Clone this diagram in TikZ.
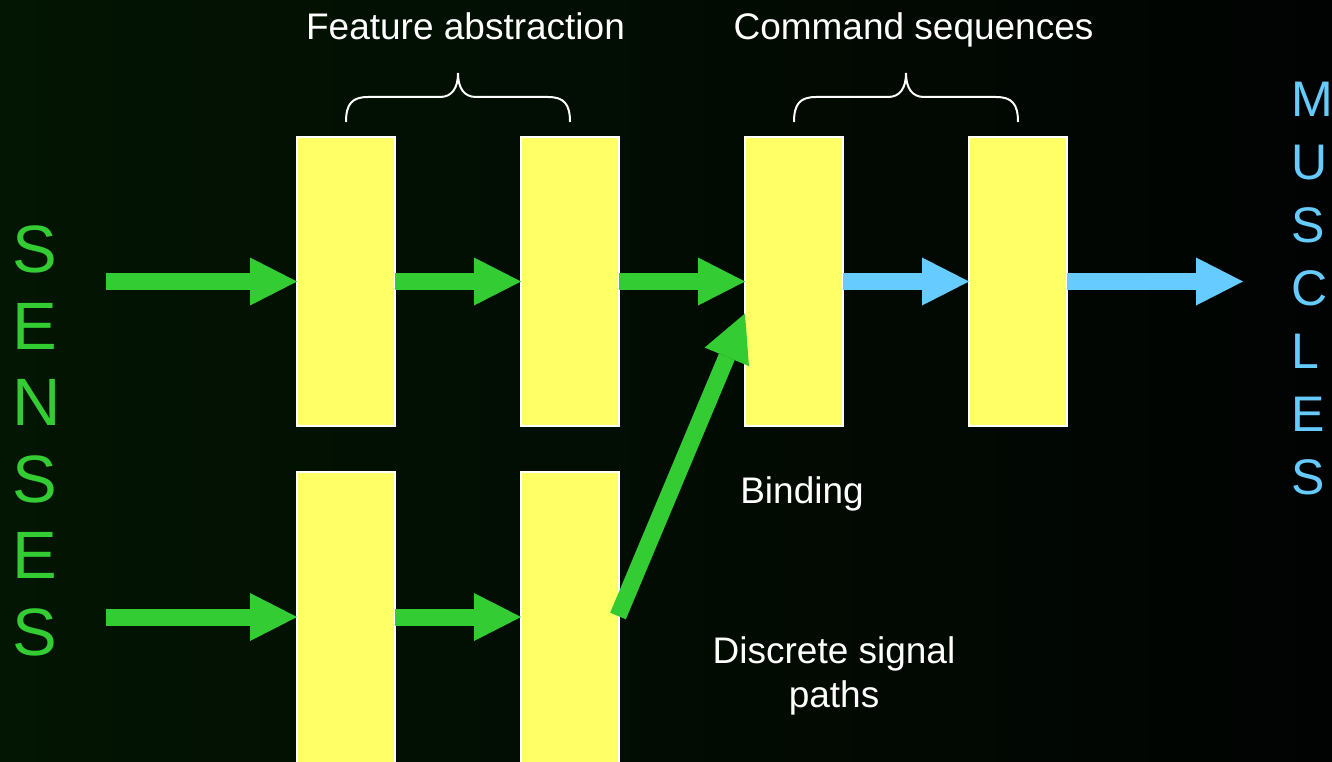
\documentclass[tikz,border=0pt]{standalone}
\usepackage{fontspec}
\setmainfont{Liberation Sans}
\usetikzlibrary{arrows.meta,calc}
\definecolor{boxyellow}{HTML}{FFFF66}
\definecolor{arrgreen}{HTML}{33CC33}
\definecolor{arrblue}{HTML}{66CCFF}
\definecolor{bgleft}{HTML}{031503}
\definecolor{bgright}{HTML}{010302}
\begin{document}
\begin{tikzpicture}[x=1pt,y=-1pt,
  stage/.style={draw=white, line width=2pt, fill=boxyellow, minimum width=98pt,
                minimum height=289pt, inner sep=0pt, outer sep=0pt},
  lowstage/.style={stage, minimum height=300pt},
  blockarrow/.style={line width=17pt,
                -{Triangle[length=47pt,width=48pt,line width=0pt]}},
  garrow/.style={blockarrow, draw=arrgreen},
  barrow/.style={blockarrow, draw=arrblue},
  lbl/.style={text=white, font=\fontsize{37}{44}\selectfont, inner sep=0pt},
  bracepath/.style={draw=white, line width=2pt},
  sidelbl/.style={inner sep=0pt, align=left}
]
\useasboundingbox (0,0) rectangle (1332,762);
\clip (0,0) rectangle (1332,762);
\fill[left color=bgleft, right color=bgright] (0,0) rectangle (1332,762);

% stages
\node[stage] (t1) at (346,281.5) {};
\node[stage] (t2) at (570,281.5) {};
\node[stage] (t3) at (794,281.5) {};
\node[stage] (t4) at (1018,281.5) {};
\node[lowstage] (b1) at (346,622) {};
\node[lowstage] (b2) at (570,622) {};

% free ends
\coordinate (s1) at (106,281.5);
\coordinate (s2) at (106,617);
\coordinate (m) at (1243,281.5);

% arrows
\draw[garrow] (s1) -- (t1.west);
\draw[garrow] (t1.east) -- (t2.west);
\draw[garrow] (t2.east) -- (t3.west);
\draw[barrow] (t3.east) -- (t4.west);
\draw[barrow] (t4.east) -- (m);
\draw[garrow] (s2) -- (s2 -| b1.west);
\draw[garrow] (b1.east |- s2) -- (b2.west |- s2);
\draw[garrow] ($(b2.east |- s2)+(-1,-1)$) -- ($(t3.west)+(0,32)$);

% braces
\draw[bracepath] (346,122) .. controls (346,104) and (352,97) .. (368,97) -- (440,97)
  .. controls (452,97) and (458,88) .. (458,73)
  .. controls (458,88) and (464,97) .. (476,97) -- (548,97)
  .. controls (564,97) and (570,104) .. (570,122);
\draw[bracepath] (794,122) .. controls (794,104) and (800,97) .. (816,97) -- (888,97)
  .. controls (900,97) and (906,88) .. (906,73)
  .. controls (906,88) and (912,97) .. (924,97) -- (996,97)
  .. controls (1012,97) and (1018,104) .. (1018,122);

% labels
\node[lbl, anchor=base] (fa) at (465.5,40) {Feature abstraction};
\node[lbl, anchor=base] (cs) at (913.5,40) {Command sequences};
\node[lbl, anchor=base] (bd) at (802,503) {Binding};
\node[lbl, anchor=base] (ds) at (834,663) {Discrete signal};
\node[lbl, anchor=base] (dp) at (834,707) {paths};

\node[sidelbl, anchor=north west, text=arrgreen, font=\fontsize{67}{76.5}\selectfont]
  (senses) at (12,226) {S\\E\\N\\S\\E\\S};
\node[sidelbl, anchor=north west, text=arrblue, font=\fontsize{50}{63}\selectfont]
  (muscles) at (1291,82) {M\\U\\S\\C\\L\\E\\S};
\end{tikzpicture}
\end{document}
